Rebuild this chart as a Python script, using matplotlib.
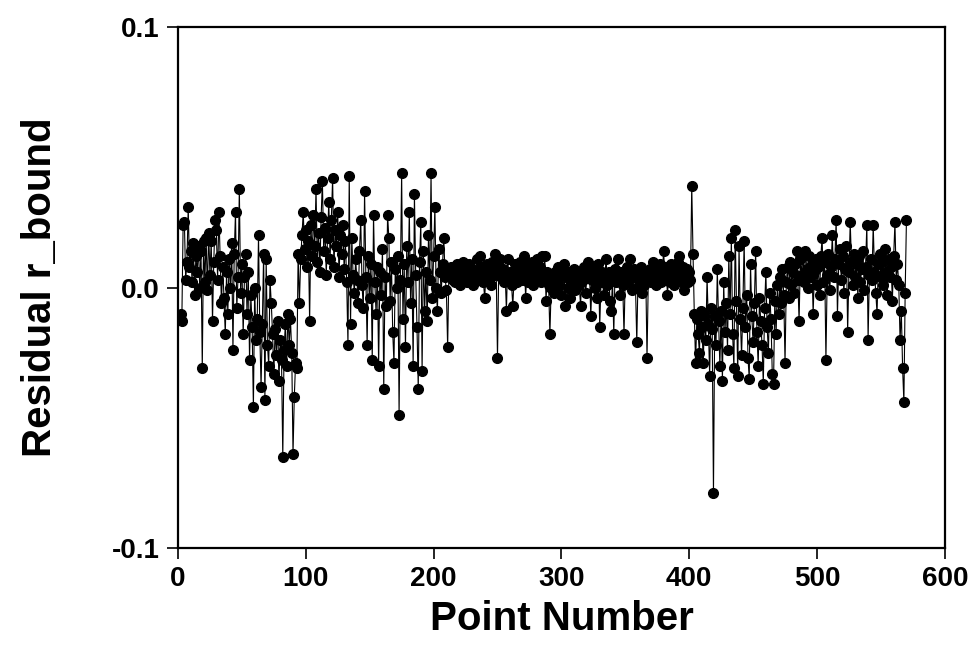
import numpy as np
import matplotlib.pyplot as plt

# residuos, punto 1 a 570
residual = [
    -0.012, -0.010, -0.013, 0.024, 0.025, 0.003, 0.010, 0.031, 0.008, 0.014,
    0.002, 0.017, -0.003, 0.012, 0.006, 0.016, 0.000, 0.014, -0.031, 0.018,
    0.002, 0.019, -0.001, 0.021, 0.005, 0.018, -0.013, 0.010, 0.026, 0.022,
    0.003, 0.029, 0.012, -0.006, 0.008, -0.004, -0.018, 0.006, -0.010, 0.011,
    0.000, 0.017, -0.024, 0.013, 0.029, -0.008, 0.004, 0.038, -0.002, 0.009,
    -0.018, 0.004, 0.013, -0.010, 0.006, -0.028, -0.003, -0.015, -0.046, 0.000,
    -0.020, -0.012, 0.020, -0.017, -0.038, -0.014, 0.013, -0.043, 0.011, -0.022,
    -0.030, 0.003, -0.006, -0.018, -0.033, -0.016, -0.026, -0.013, -0.036, -0.020,
    -0.028, -0.065, -0.024, -0.014, -0.030, -0.010, -0.022, -0.012, -0.025, -0.064,
    -0.042, -0.029, -0.031, 0.013, -0.006, 0.011, 0.020, 0.029, 0.015, 0.022,
    0.008, 0.018, -0.013, 0.024, 0.012, 0.028, 0.016, 0.038, 0.010, 0.021,
    0.006, 0.027, 0.041, 0.014, 0.023, 0.005, 0.019, 0.033, 0.011, 0.026,
    0.042, 0.008, 0.022, 0.016, 0.029, 0.004, 0.020, 0.013, 0.024, 0.007,
    0.018, 0.002, -0.022, 0.043, -0.014, 0.019, 0.005, -0.002, 0.011, 0.003,
    -0.006, 0.014, 0.026, 0.001, -0.008, 0.037, 0.004, -0.022, 0.012, -0.004,
    0.009, -0.028, 0.028, 0.002, -0.010, 0.008, -0.030, 0.006, -0.003, 0.015,
    -0.039, 0.004, -0.007, 0.028, 0.019, -0.005, 0.010, -0.017, -0.029, 0.007,
    0.000, 0.012, -0.049, 0.003, 0.044, -0.012, 0.009, -0.023, 0.016, 0.002,
    0.029, -0.006, 0.011, -0.030, 0.036, 0.005, -0.015, -0.039, 0.010, 0.025,
    -0.032, 0.014, -0.009, 0.006, -0.013, 0.020, 0.003, 0.044, -0.004, 0.012,
    0.031, 0.000, -0.009, 0.015, 0.006, -0.002, 0.009, 0.019, 0.004, -0.001,
    -0.023, 0.007, 0.005, 0.008, 0.003, 0.006, 0.002, 0.009, 0.004, 0.007,
    0.001, 0.006, 0.010, 0.004, 0.008, 0.002, 0.005, 0.009, 0.003, 0.007,
    0.001, 0.006, 0.004, 0.011, 0.005, 0.012, 0.003, 0.008, 0.002, -0.004,
    0.006, 0.009, 0.003, 0.007, 0.001, 0.010, 0.005, 0.013, 0.006, -0.027,
    0.008, 0.011, 0.004, 0.007, 0.002, 0.005, -0.009, 0.011, 0.003, 0.006,
    0.001, -0.007, 0.004, 0.009, 0.002, 0.007, 0.005, 0.010, 0.003, 0.008,
    0.012, -0.004, 0.006, 0.002, 0.009, 0.004, 0.010, 0.001, 0.007, 0.003,
    0.011, 0.005, 0.008, 0.002, 0.012, 0.004, 0.012, -0.005, 0.006, 0.001,
    -0.018, 0.000, 0.004, -0.002, 0.006, 0.003, 0.008, 0.001, 0.005, -0.003,
    0.007, 0.009, -0.007, 0.004, 0.000, 0.006, -0.004, 0.005, 0.002, 0.007,
    -0.001, 0.004, 0.006, 0.001, -0.007, 0.005, 0.003, 0.008, -0.002, 0.004,
    0.010, 0.006, -0.011, 0.003, 0.007, 0.000, 0.005, -0.004, 0.009, -0.015,
    0.002, 0.006, -0.003, 0.004, 0.011, 0.001, 0.006, -0.005, -0.009, 0.003,
    -0.018, 0.007, 0.002, 0.011, 0.004, -0.003, 0.006, 0.001, -0.018, 0.005,
    0.008, 0.002, 0.006, 0.011, -0.001, 0.004, 0.007, 0.000, -0.021, 0.005,
    0.003, 0.008, -0.002, 0.004, 0.001, 0.006, -0.027, 0.003, 0.007, 0.002,
    0.005, 0.010, 0.004, 0.001, 0.007, 0.003, 0.009, 0.002, 0.006, 0.014,
    0.004, 0.008, -0.003, 0.005, 0.002, 0.009, 0.004, 0.001, 0.007, 0.003,
    0.010, 0.012, 0.005, 0.002, 0.008, -0.001, 0.004, 0.007, 0.002, 0.006,
    0.003, 0.039, 0.013, -0.010, -0.029, -0.012, -0.018, -0.025, -0.009, -0.015,
    -0.029, -0.011, -0.020, 0.004, -0.014, -0.034, -0.008, -0.016, -0.079, -0.011,
    -0.022, 0.007, -0.013, -0.030, -0.009, -0.036, 0.002, -0.017, -0.006, -0.024,
    0.012, -0.010, 0.019, -0.018, -0.031, 0.022, -0.005, -0.034, 0.016, -0.012,
    -0.026, -0.008, 0.018, -0.015, -0.003, -0.027, -0.035, 0.009, -0.011, -0.021,
    -0.006, 0.014, -0.017, -0.030, -0.004, -0.013, -0.022, -0.037, -0.008, 0.006,
    -0.015, -0.025, -0.002, -0.012, -0.033, -0.037, -0.005, -0.018, 0.001, -0.010,
    0.004, -0.006, 0.007, -0.003, -0.029, 0.002, 0.008, -0.004, 0.010, 0.001,
    0.006, -0.002, 0.009, 0.014, 0.003, -0.013, 0.011, 0.005, 0.013, 0.002,
    0.014, 0.007, 0.000, 0.012, 0.004, 0.009, -0.010, 0.006, 0.011, 0.001,
    0.008, -0.003, 0.012, 0.019, 0.002, 0.010, -0.028, 0.005, 0.013, -0.001,
    0.008, 0.020, 0.004, 0.011, 0.026, -0.011, 0.009, 0.015, 0.003, 0.012,
    -0.002, 0.007, 0.016, -0.017, 0.006, 0.025, 0.010, 0.001, 0.013, 0.004,
    0.009, -0.004, 0.012, 0.002, 0.007, 0.014, -0.001, 0.008, 0.024, -0.020,
    0.005, 0.011, 0.003, 0.024, 0.006, -0.002, -0.010, 0.009, 0.013, 0.004,
    0.010, 0.001, 0.015, 0.006, -0.003, 0.011, 0.004, 0.008, -0.005, 0.012,
    0.025, 0.003, 0.009, 0.001, -0.020, -0.009, -0.031, -0.044, -0.002, 0.026,
]
point_number = np.arange(1, len(residual) + 1)

x_ticks = [0, 100, 200, 300, 400, 500, 600]
y_ticks = [-0.1, 0.0, 0.1]

plt.rcParams['font.family'] = ['Liberation Sans', 'DejaVu Sans']

fig = plt.figure(figsize=(9.7, 6.46), dpi=100)
ax = fig.add_axes([0.1835, 0.1517, 0.7905, 0.8063])

ax.plot(point_number, residual, color='black', linewidth=0.8,
        marker='o', markersize=7, markerfacecolor='black', markeredgecolor='black')

ax.set_xlim(0, 600)
ax.set_ylim(-0.1, 0.1)
ax.set_xticks(x_ticks)
ax.set_yticks(y_ticks)
ax.set_yticklabels([f"{v:.1f}" for v in y_ticks])

for s in ax.spines.values():
    s.set_linewidth(1.6)
ax.tick_params(direction='out', length=8, width=1.2, labelsize=20, pad=5)
for lbl in ax.get_xticklabels() + ax.get_yticklabels():
    lbl.set_fontweight('bold')

ax.set_xlabel("Point Number", fontsize=29, fontweight='bold', labelpad=6)
ax.set_ylabel("Residual r_bound", fontsize=29, fontweight='bold', labelpad=38)

fig.savefig("out.png", dpi=100)
